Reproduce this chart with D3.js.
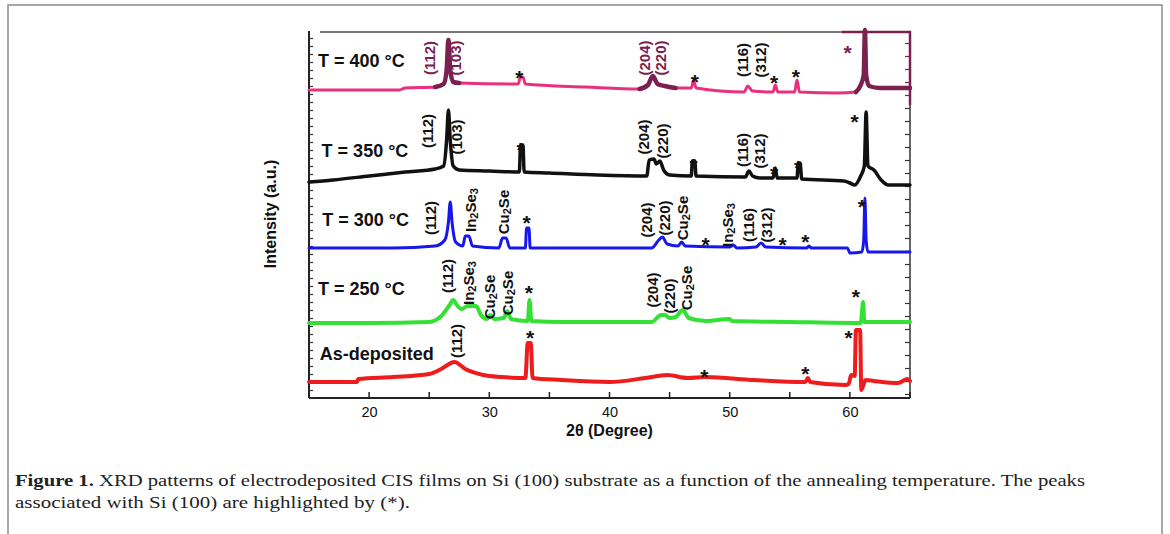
<!DOCTYPE html>
<html>
<head>
<meta charset="utf-8">
<script src="https://cdn.jsdelivr.net/npm/d3@7"></script>
<style>
html,body{margin:0;padding:0;background:#fff;}
svg{display:block;}
</style>
</head>
<body>
<svg id="chart" width="1170" height="534"></svg>
<script>
// ---------- DATA (2θ in degrees, intensity in a.u.) ----------
const xTicks = [20, 30, 40, 50, 60];
const xMinorTicks = [15, 25, 35, 45, 55, 65];

const sampleNames = ["T = 400 °C", "T = 350 °C", "T = 300 °C", "T = 250 °C", "As-deposited"];
const sampleColors = ["#e8307c", "#111111", "#1717ec", "#35e035", "#ee1c1c"];

const theta400 = [15,22.5,23,25.5,26.2,26.45,26.6,26.75,27,27.5,32.4,32.6,32.8,33,38,42.5,43.2,43.6,44,44.6,45.5,46.8,47,47.2,51.2,51.5,51.9,53.6,53.8,54,55.4,55.6,55.8,59,60.5,60.9,61.15,61.25,61.35,61.6,62.5,65];
const int400   = [308,308,310,311,314,328,358,328,316,315,314,321,321,314,311,309,313,322,314,312,310,310,318,310,306,312,307,306,313,306,306,318,306,305,306,313,323,368,323,312,310,310];
const maroonRanges400 = [[25.5, 27.6], [42.5, 45.5], [60.4, 65]];

const theta350 = [15,17,20,23,25.5,26.2,26.45,26.6,26.75,27,27.5,30,32.5,32.6,32.8,32.9,35,39,43.1,43.3,43.7,43.9,44.2,44.5,45,46.8,46.9,47.1,47.2,51.3,51.6,51.9,52.5,53.6,53.8,53.95,55.6,55.7,55.85,56,59.5,60,60.4,60.9,61.2,61.35,61.5,62,62.6,63.2,65];
const int350   = [216,218,222,226,229,232,258,288,258,232,228,227,226,253,253,226,225,223,222,238,239,234,237,228,223,222,237,237,222,221,227,222,220,220,230,220,220,235,235,219,217,215,213,222,232,286,232,228,218,213,213];

const theta300 = [15,22,25.5,26.3,26.6,26.75,26.9,27.2,27.8,28,28.3,28.6,30.8,31.1,31.4,31.7,33,33.1,33.3,33.4,43.5,44.1,44.4,44.8,45.7,46,46.3,50,50.3,50.6,52.2,52.6,53,56.4,56.6,56.8,59.8,60,61,61.15,61.25,61.35,61.5,65];
const int300   = [150,150,152,158,176,196,176,156,152,162,162,152,150,160,160,150,150,170,170,150,150,158,161,154,152,156,152,151,153,150,151,155,151,150,152,150,150,145,146,158,200,158,146,146];

const theta250 = [15,20,25,26,26.7,27,27.3,27.7,28.2,28.9,29.3,29.8,30.1,30.4,31.2,31.5,31.8,33.2,33.35,33.5,36,43.5,44.3,44.6,45,45.5,46.1,46.6,48,50,50.2,55,60.9,61.1,61.2,65];
const int250   = [75,75,76,82,93,98,93,89,92,92,83,79,83,79,80,87,79,77,98,77,76,76,83,83,80,81,88,80,77,79,77,76,75,96,76,76];

const thetaAsDep = [15,19,19.1,22,25,26,27.1,28,29.5,31,33,33.2,33.45,33.6,36,40,43,44.8,46.5,48,52,56.3,56.5,56.7,59.6,59.9,60.1,60.4,60.5,60.85,60.95,61.3,62,64,64.8,65];
const intAsDep   = [16,16,19,21,24,29,36,29,23,21,20,55,55,20,18,16,20,23,20,21,18,16,20,16,13,14,23,22,68,68,8,18,17,15,19,17];

// Si (100) peak markers: [2θ, intensity, sample index]
const siStars = [
  [32.5,325,0],[47.1,321,0],[53.7,320,0],[55.5,326,0],[59.8,350,0],
  [32.6,253,1],[47.0,237,1],[53.7,229,1],[55.7,235,1],[60.4,281,1],
  [33.1,180,2],[48.0,158,2],[54.4,158,2],[56.3,161,2],[61.0,196,2],
  [33.3,110,3],[60.5,106,3],
  [33.4,65,4],[47.9,26,4],[56.3,29,4],[59.9,65,4]
];
// phase / hkl annotations: [2θ, intensity, text, sample index]
const peakLabels = [
  [25.05,340,"(112)",0],[27.2,340,"(103)",0],[42.9,340,"(204)",0],[44.25,340,"(220)",0],[51.05,338,"(116)",0],[52.55,338,"(312)",0],
  [24.9,267,"(112)",1],[27.3,261,"(103)",1],[42.8,261,"(204)",1],[44.4,257,"(220)",1],[51.05,248,"(116)",1],[52.45,247,"(312)",1],
  [25.1,180,"(112)",2],[28.4,188,"In2Se3",2],[31.1,186,"Cu2Se",2],[43.07,178,"(204)",2],[44.57,180,"(220)",2],[46.06,180,"Cu2Se",2],[49.8,173,"In2Se3",2],[51.6,173,"(116)",2],[53.1,173,"(312)",2],
  [26.5,122,"(112)",3],[28.2,115,"In2Se3",3],[30.0,101,"Cu2Se",3],[31.45,105,"Cu2Se",3],[43.57,108,"(204)",3],[44.98,102,"(220)",3],[46.4,110,"Cu2Se",3],
  [27.3,57,"(112)",4]
];
// sample title anchors: [2θ, intensity]
const titleAnchors = [[15.75,331],[16.05,241],[16.1,172],[15.75,103],[15.9,38]];

// ---------- CHART ----------
const svg = d3.select("#chart");
const x = d3.scaleLinear().domain([15, 65]).range([309, 910]);
const y = d3.scaleLinear().domain([0, 368]).range([398, 30]);
const FONT = "'Liberation Sans', Arial, sans-serif";
const maroon = "#7a2150";

// outer figure frame
svg.append("rect").attr("x", 8).attr("y", 5).attr("width", 1154).attr("height", 545)
  .attr("fill", "none").attr("stroke", "#8c8c8c").attr("stroke-width", 1.5);

const series = [
  {t: theta400, v: int400, w: 3},
  {t: theta350, v: int350, w: 3.5},
  {t: theta300, v: int300, w: 3},
  {t: theta250, v: int250, w: 4},
  {t: thetaAsDep, v: intAsDep, w: 4}
];

const line = d3.line().x(d => x(d[0])).y(d => y(d[1])).curve(d3.curveMonotoneX);

// frame pieces
const g = svg.append("g");
g.append("line").attr("x1", 320).attr("x2", x(59.3)).attr("y1", y(366)).attr("y2", y(366))
  .attr("stroke", "#777").attr("stroke-width", 2);
g.append("path").attr("d", `M${x(59.3)},${y(366)}H${x(65)}V${y(293)}`)
  .attr("fill", "none").attr("stroke", maroon).attr("stroke-width", 2.5);
g.append("line").attr("x1", x(15)).attr("x2", x(15)).attr("y1", y(367)).attr("y2", y(0))
  .attr("stroke", "#222").attr("stroke-width", 2);
g.append("line").attr("x1", x(65)).attr("x2", x(65)).attr("y1", y(293)).attr("y2", y(0))
  .attr("stroke", "#333").attr("stroke-width", 1.5);
const leftAxis = d3.axisRight(y).tickValues(d3.range(0, 368, 8)).tickSize(4).tickFormat("");
const la = svg.append("g").attr("transform", `translate(${x(15)},0)`).call(leftAxis);
la.select(".domain").remove();
la.selectAll("line").attr("stroke", "#333").attr("stroke-width", 1.2);
const rightAxis = d3.axisLeft(y).tickValues(d3.range(4, 366, 13)).tickSize(5).tickFormat("");
const ra = svg.append("g").attr("transform", `translate(${x(65)},0)`).call(rightAxis);
ra.select(".domain").remove();
ra.selectAll("line").attr("stroke", (d) => d > 293 ? maroon : "#333").attr("stroke-width", 1.2);

// bottom axis
const xa = d3.axisBottom(x).tickValues(xTicks).tickSize(0).tickPadding(9).tickFormat(d3.format("d"));
const xg = svg.append("g").attr("transform", `translate(0,${y(0)})`).call(xa);
xg.select(".domain").remove();
xg.selectAll("text").attr("font-family", FONT).attr("font-size", 14.5).attr("fill", "#111");
g.append("line").attr("x1", x(15)).attr("x2", x(65)).attr("y1", y(0)).attr("y2", y(0))
  .attr("stroke", "#222").attr("stroke-width", 2);
svg.append("g").selectAll("line").data(xTicks.concat(xMinorTicks)).join("line")
  .attr("x1", d => x(d)).attr("x2", d => x(d)).attr("y1", y(0)).attr("y2", y(0) - 6)
  .attr("stroke", "#222").attr("stroke-width", 1.5);

// traces
series.forEach((s, i) => {
  const pts = s.t.map((t, k) => [t, s.v[k]]);
  svg.append("path").attr("d", line(pts)).attr("fill", "none")
    .attr("stroke", sampleColors[i]).attr("stroke-width", s.w)
    .attr("stroke-linejoin", "round").attr("stroke-linecap", "round");
  if (i === 0) {
    maroonRanges400.forEach(r => {
      const sub = pts.filter(p => p[0] >= r[0] && p[0] <= r[1]);
      svg.append("path").attr("d", line(sub)).attr("fill", "none")
        .attr("stroke", maroon).attr("stroke-width", 4.5)
        .attr("stroke-linejoin", "round").attr("stroke-linecap", "round");
    });
  }
});

// sample titles
svg.append("g").selectAll("text").data(sampleNames).join("text")
  .attr("x", (d, i) => x(titleAnchors[i][0])).attr("y", (d, i) => y(titleAnchors[i][1]))
  .attr("font-family", FONT).attr("font-weight", "bold").attr("font-size", 18).attr("fill", "#111")
  .text(d => d);

// Si stars
const sfs = 21;
svg.append("g").selectAll("text").data(siStars).join("text")
  .attr("x", d => x(d[0])).attr("y", d => y(d[1]) + sfs * 0.57)
  .attr("text-anchor", "middle")
  .attr("font-family", FONT).attr("font-weight", "bold").attr("font-size", sfs)
  .attr("fill", d => (d[2] === 0 && d[0] > 59) ? maroon : "#111")
  .text("*");

// peak labels (rotated)
const lg = svg.append("g");
peakLabels.forEach(d => {
  const t = lg.append("text")
    .attr("transform", `translate(${x(d[0])},${y(d[1])}) rotate(-90)`)
    .attr("text-anchor", "middle").attr("dominant-baseline", "central")
    .attr("font-family", FONT).attr("font-weight", "bold").attr("font-size", 15)
    .attr("fill", (d[3] === 0 && d[0] < 46) ? maroon : "#111");
  const m = d[2].match(/^([A-Za-z]+)(\d)([A-Za-z]+)(\d?)$/);
  if (m) {
    t.append("tspan").text(m[1]);
    t.append("tspan").attr("dy", 4).attr("font-size", 11).text(m[2]);
    t.append("tspan").attr("dy", -4).text(m[3]);
    if (m[4]) t.append("tspan").attr("dy", 4).attr("font-size", 11).text(m[4]);
  } else {
    t.text(d[2]);
  }
});

// axis titles
svg.append("text").attr("x", x(40)).attr("y", 436).attr("text-anchor", "middle")
  .attr("font-family", FONT).attr("font-weight", "bold").attr("font-size", 16).attr("fill", "#111")
  .text("2θ (Degree)");
svg.append("text").attr("transform", `translate(276,214) rotate(-90)`).attr("text-anchor", "middle")
  .attr("font-family", FONT).attr("font-weight", "bold").attr("font-size", 16).attr("fill", "#111")
  .text("Intensity (a.u.)");

// caption
const SERIF = "'Liberation Serif', 'DejaVu Serif', serif";
const c1 = svg.append("text").attr("x", 15).attr("y", 486)
  .attr("font-family", SERIF).attr("font-size", 17).attr("fill", "#222")
  .attr("textLength", 1070).attr("lengthAdjust", "spacingAndGlyphs");
c1.append("tspan").attr("font-weight", "bold").text("Figure 1.");
c1.append("tspan").text(" XRD patterns of electrodeposited CIS films on Si (100) substrate as a function of the annealing temperature. The peaks");
svg.append("text").attr("x", 15).attr("y", 508)
  .attr("font-family", SERIF).attr("font-size", 17).attr("fill", "#222")
  .attr("textLength", 395).attr("lengthAdjust", "spacingAndGlyphs")
  .text("associated with Si (100) are highlighted by (*).");
</script>
</body>
</html>
